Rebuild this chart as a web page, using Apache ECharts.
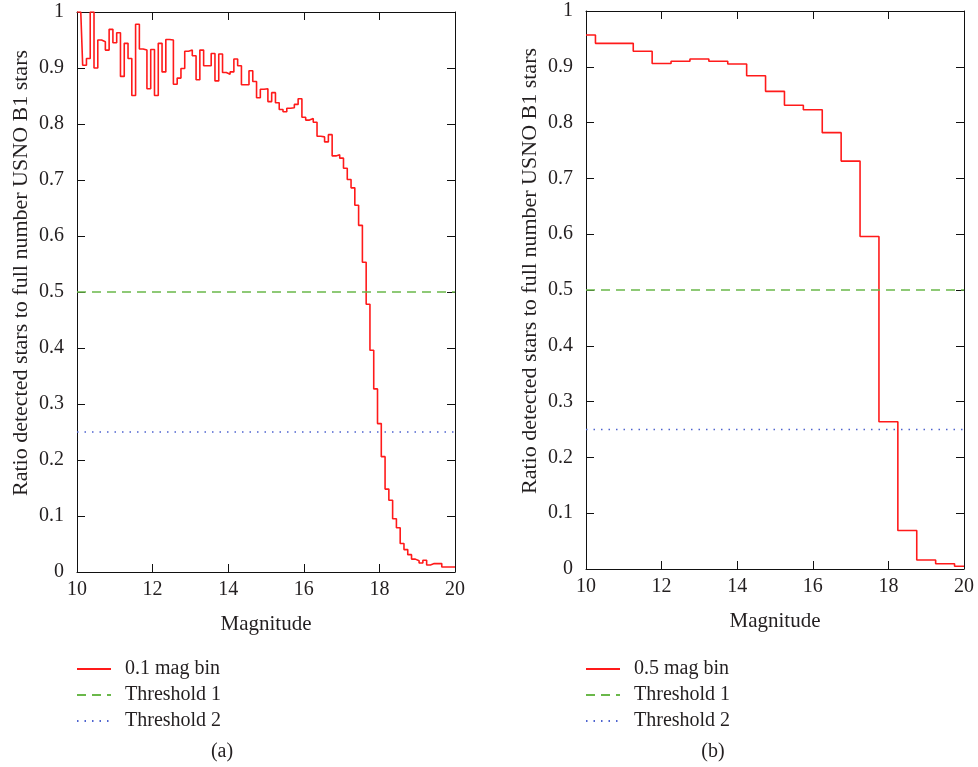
<!DOCTYPE html>
<html>
<head>
<meta charset="utf-8">
<script src="https://cdn.jsdelivr.net/npm/echarts@6/dist/echarts.min.js"></script>
<style>
  html, body { margin: 0; padding: 0; background: #fff; }
  #chart { width: 978px; height: 767px; }
</style>
</head>
<body>
<div id="chart"></div>
<script>
// ---------- data ----------
const magBins01 = [
  10.0,10.1,10.2,10.3,10.4,10.5,10.6,10.7,10.8,10.9,
  11.0,11.1,11.2,11.3,11.4,11.5,11.6,11.7,11.8,11.9,
  12.0,12.1,12.2,12.3,12.4,12.5,12.6,12.7,12.8,12.9,
  13.0,13.1,13.2,13.3,13.4,13.5,13.6,13.7,13.8,13.9,
  14.0,14.1,14.2,14.3,14.4,14.5,14.6,14.7,14.8,14.9,
  15.0,15.1,15.2,15.3,15.4,15.5,15.6,15.7,15.8,15.9,
  16.0,16.1,16.2,16.3,16.4,16.5,16.6,16.7,16.8,16.9,
  17.0,17.1,17.2,17.3,17.4,17.5,17.6,17.7,17.8,17.9,
  18.0,18.1,18.2,18.3,18.4,18.5,18.6,18.7,18.8,18.9,
  19.0,19.1,19.2,19.3,19.4,19.5,19.6,19.7,19.8,19.9,
  20.0
];
const ratio01 = [
  1.000,1.000,0.905,0.917,1.000,0.900,0.950,0.947,0.932,0.969,
  0.945,0.963,0.885,0.944,0.917,0.851,0.978,0.934,0.932,0.863,
  0.933,0.851,0.944,0.893,0.951,0.950,0.871,0.882,0.899,0.930,
  0.932,0.922,0.879,0.932,0.904,0.904,0.926,0.877,0.925,0.892,
  0.889,0.893,0.916,0.904,0.870,0.870,0.895,0.876,0.847,0.862,
  0.863,0.840,0.856,0.838,0.826,0.822,0.828,0.829,0.835,0.845,
  0.812,0.807,0.810,0.803,0.778,0.777,0.768,0.781,0.743,0.745,
  0.739,0.721,0.701,0.686,0.655,0.619,0.553,0.478,0.396,0.327,
  0.265,0.206,0.148,0.128,0.095,0.079,0.051,0.040,0.031,0.023,
  0.020,0.016,0.021,0.0125,0.015,0.015,0.015,0.009,0.009,0.009,
  0.009
];
const magBins05 = [10.0,10.5,11.0,11.5,12.0,12.5,13.0,13.5,14.0,14.5,15.0,15.5,16.0,16.5,17.0,17.5,18.0,18.5,19.0,19.5,20.0];
const ratio05 = [0.957,0.942,0.942,0.928,0.906,0.910,0.914,0.910,0.905,0.884,0.856,0.831,0.823,0.782,0.731,0.596,0.264,0.069,0.016,0.0095,0.005];
const threshold1 = 0.5;
const threshold2 = 0.25;
const magRange = [10, 20];
const xTicks = [10, 12, 14, 16, 18, 20];
const yTicks = [0, 0.1, 0.2, 0.3, 0.4, 0.5, 0.6, 0.7, 0.8, 0.9, 1];
const seriesNames = ['0.1 mag bin', '0.5 mag bin', 'Threshold 1', 'Threshold 2'];
const xTitle = 'Magnitude';
const yTitle = 'Ratio detected stars to full number USNO B1 stars';
const captions = ['(a)', '(b)'];

// ---------- style ----------
const FONT = '"Liberation Serif", "DejaVu Serif", serif';
const TXT = '#231f20';
const RED = '#ff1a1a';
const GREEN = '#6ab84a';
const BLUE = '#4d63cf';

const grids = [
  { left: 77, top: 12, width: 378, height: 560 },
  { left: 586, top: 11, width: 378, height: 558 }
];

function xAxesFor(gi) {
  const base = {
    gridIndex: gi, type: 'value', min: magRange[0], max: magRange[1], interval: xTicks[1] - xTicks[0],
    splitLine: { show: false },
    axisLine: { show: true, onZero: false, lineStyle: { color: '#111', width: 1 } },
    axisTick: { show: true, inside: true, length: 8, lineStyle: { color: '#111', width: 1 } }
  };
  return [
    Object.assign({}, base, {
      position: 'bottom',
      axisLabel: { margin: 8, fontFamily: FONT, fontSize: 20, color: TXT },
      name: xTitle, nameLocation: 'middle', nameGap: 42,
      nameTextStyle: { fontFamily: FONT, fontSize: 21, color: TXT }
    }),
    Object.assign({}, base, { position: 'top', axisLabel: { show: false } })
  ];
}
function yAxesFor(gi) {
  const base = {
    gridIndex: gi, type: 'value', min: yTicks[0], max: yTicks[yTicks.length - 1], interval: 0.1,
    splitLine: { show: false },
    axisLine: { show: true, onZero: false, lineStyle: { color: '#111', width: 1 } },
    axisTick: { show: true, inside: true, length: 8, lineStyle: { color: '#111', width: 1 } }
  };
  return [
    Object.assign({}, base, {
      position: 'left',
      axisLabel: { margin: 13, fontFamily: FONT, fontSize: 20, color: TXT, padding: [8, 0, 0, 0],
        formatter: v => String(Math.round(v * 10) / 10) },
      name: yTitle, nameLocation: 'middle', nameGap: 45,
      nameTextStyle: { fontFamily: FONT, fontSize: 22, color: TXT, padding: [0, 0, 0, 38] }
    }),
    Object.assign({}, base, { position: 'right', axisLabel: { show: false } })
  ];
}

function stepSeries(name, xs, ys, xi, yi) {
  return {
    name, type: 'line', step: 'middle', xAxisIndex: xi, yAxisIndex: yi,
    data: xs.map((m, i) => [m, ys[i]]),
    symbol: 'none', clip: true, animation: false,
    lineStyle: { color: RED, width: 1.6 }, itemStyle: { color: RED }
  };
}
function hLine(name, value, color, dash, xi, yi) {
  return {
    name, type: 'line', xAxisIndex: xi, yAxisIndex: yi,
    data: [[magRange[0], value], [magRange[1], value]],
    symbol: 'none', animation: false,
    lineStyle: { color, width: 1.3, type: dash }, itemStyle: { color }
  };
}

function legendFor(left, first) {
  return {
    data: [first, seriesNames[2], seriesNames[3]],
    orient: 'vertical', left, top: 654, itemWidth: 34, itemHeight: 14, itemGap: 6,
    selectedMode: false,
    itemStyle: { opacity: 0 },
    textStyle: { fontFamily: FONT, fontSize: 20, color: TXT, lineHeight: 20, padding: [0, 0, 0, 9] }
  };
}

const option = {
  backgroundColor: '#fff',
  animation: false,
  grid: grids,
  xAxis: [...xAxesFor(0), ...xAxesFor(1)],
  yAxis: [...yAxesFor(0), ...yAxesFor(1)],
  legend: [legendFor(71, seriesNames[0]), legendFor(580, seriesNames[1])],
  series: [
    stepSeries(seriesNames[0], magBins01, ratio01, 0, 0),
    hLine(seriesNames[2], threshold1, GREEN, [9, 6], 0, 0),
    hLine(seriesNames[3], threshold2, BLUE, [1.5, 6], 0, 0),
    stepSeries(seriesNames[1], magBins05, ratio05, 2, 2),
    hLine(seriesNames[2], threshold1, GREEN, [9, 6], 2, 2),
    hLine(seriesNames[3], threshold2, BLUE, [1.5, 6], 2, 2)
  ],
  graphic: [
    { type: 'text', x: 222, y: 752, style: { text: captions[0], font: '20px ' + FONT, fill: TXT, textAlign: 'center', textVerticalAlign: 'middle' } },
    { type: 'text', x: 713, y: 752, style: { text: captions[1], font: '20px ' + FONT, fill: TXT, textAlign: 'center', textVerticalAlign: 'middle' } }
  ]
};

const chart = echarts.init(document.getElementById('chart'), null, { renderer: 'canvas' });
chart.setOption(option);
</script>
</body>
</html>
